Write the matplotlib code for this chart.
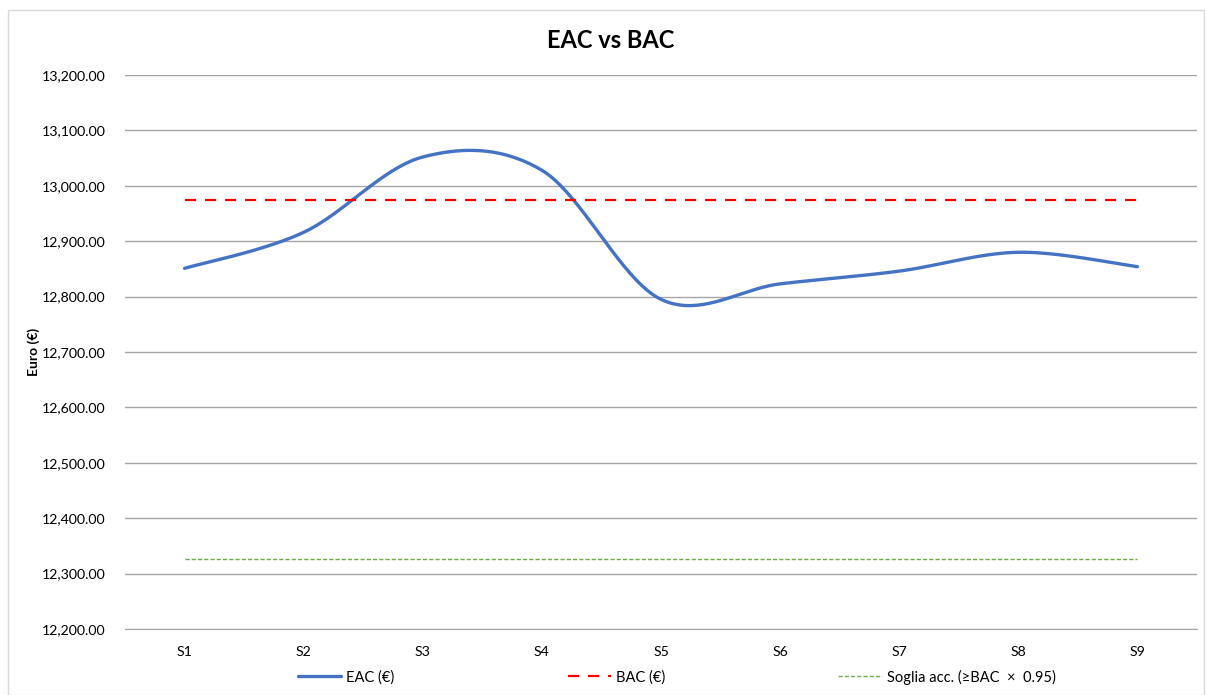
import numpy as np
import matplotlib
matplotlib.use("Agg")
import matplotlib.pyplot as plt
from matplotlib.ticker import FuncFormatter
from matplotlib.patches import Rectangle

plt.rcParams['font.family'] = ['Lato', 'DejaVu Sans']

# dati
settimane = ["S1", "S2", "S3", "S4", "S5", "S6", "S7", "S8", "S9"]
eac = [12851, 12916, 13052, 13028, 12795, 12823, 12846, 12880, 12854]
bac = [12975] * 9
soglia = [12975 * 0.95] * 9


def smooth(xs, ys, n=40):
    # curva smussata stile Excel (bezier con tangenti catmull-rom)
    xs = np.asarray(xs, float)
    ys = np.asarray(ys, float)
    px = np.concatenate([[xs[0]], xs, [xs[-1]]])
    py = np.concatenate([[ys[0]], ys, [ys[-1]]])
    out_x, out_y = [], []
    t = np.linspace(0, 1, n)
    for i in range(1, len(px) - 2):
        p0 = np.array([px[i], py[i]])
        p3 = np.array([px[i + 1], py[i + 1]])
        p1 = p0 + (np.array([px[i + 1], py[i + 1]]) - np.array([px[i - 1], py[i - 1]])) / 6
        p2 = p3 - (np.array([px[i + 2], py[i + 2]]) - np.array([px[i], py[i]])) / 6
        b = ((1 - t) ** 3)[:, None] * p0 + (3 * (1 - t) ** 2 * t)[:, None] * p1 \
            + (3 * (1 - t) * t ** 2)[:, None] * p2 + (t ** 3)[:, None] * p3
        out_x.extend(b[:, 0])
        out_y.extend(b[:, 1])
    return out_x, out_y


fig = plt.figure(figsize=(12.06, 6.95), dpi=100)
ax = fig.add_axes([125 / 1206, 1 - 629 / 695, 1072 / 1206, 554 / 695])

x = np.arange(1, len(settimane) + 1)
sx, sy = smooth(x, eac)
ax.plot(sx, sy, color="#4472C4", lw=2.4, label="EAC (€)", solid_capstyle="round")
ax.plot(x, bac, color="#FF0000", lw=1.6, dashes=(5, 4), label="BAC (€)")
ax.plot(x, soglia, color="#70AD47", lw=1.0, dashes=(3, 1.5),
        label="Soglia acc. (≥BAC  ×  0.95)")

ax.set_xlim(0.5, len(settimane) + 0.5)
ax.set_ylim(12200, 13200)
ax.set_yticks(np.arange(12200, 13201, 100))
ax.yaxis.set_major_formatter(FuncFormatter(lambda v, p: f"{v:,.2f}"))
ax.set_xticks(x)
ax.set_xticklabels(settimane)
ax.grid(axis="y", color="#a6a6a6", lw=1)
ax.set_axisbelow(True)
for s in ["top", "right", "left"]:
    ax.spines[s].set_visible(False)
ax.spines["bottom"].set_color("#a6a6a6")
ax.tick_params(axis="both", length=0, labelsize=10.2, colors="#000000")
ax.tick_params(axis="y", pad=14)
ax.tick_params(axis="x", pad=12)
ax.set_ylabel("Euro (€)", fontsize=10, fontweight="bold", labelpad=1)

fig.text(611 / 1206, 1 - 40 / 695, "EAC vs BAC", ha="center", va="center",
         fontsize=17, fontweight="bold")

fig.legend(loc="center", bbox_to_anchor=(0.561, 1 - 677 / 695), ncol=3,
           frameon=False, fontsize=10.5, handlelength=3, columnspacing=11.9,
           handletextpad=0.3)

fig.patches.append(Rectangle((8 / 1206, 0), 1196 / 1206, 1 - 10 / 695,
                             transform=fig.transFigure, fill=False,
                             edgecolor="#d9d9d9", lw=1))

fig.savefig("out.png", dpi=100)
